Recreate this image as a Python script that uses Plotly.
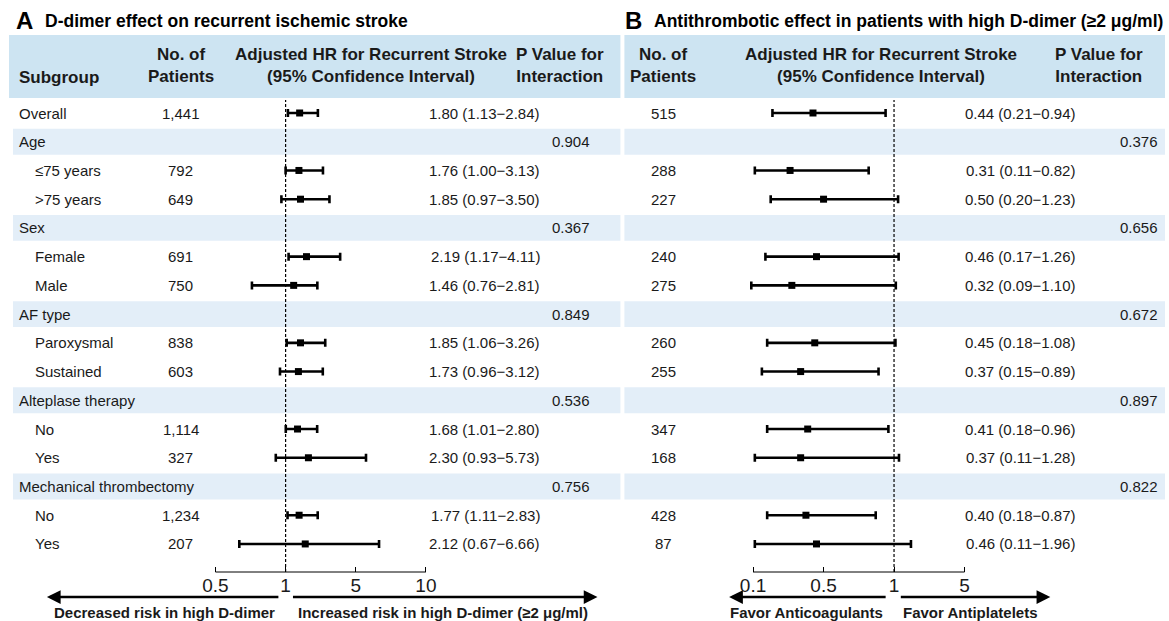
import numpy as np
import plotly.graph_objects as go

W, H = 1169, 621

# ---------------- data ----------------
subgroups = ["Overall", "Age", "≤75 years", ">75 years", "Sex", "Female", "Male",
             "AF type", "Paroxysmal", "Sustained", "Alteplase therapy", "No", "Yes",
             "Mechanical thrombectomy", "No", "Yes"]
is_category = [False, True, False, False, True, False, False, True, False, False,
               True, False, False, True, False, False]

a_n = ["1,441", "", "792", "649", "", "691", "750", "", "838", "603", "", "1,114", "327", "", "1,234", "207"]
a_hr = [1.80, None, 1.76, 1.85, None, 2.19, 1.46, None, 1.85, 1.73, None, 1.68, 2.30, None, 1.77, 2.12]
a_lo = [1.13, None, 1.00, 0.97, None, 1.17, 0.76, None, 1.06, 0.96, None, 1.01, 0.93, None, 1.11, 0.67]
a_hi = [2.84, None, 3.13, 3.50, None, 4.11, 2.81, None, 3.26, 3.12, None, 2.80, 5.73, None, 2.83, 6.66]
a_p = ["", "0.904", "", "", "0.367", "", "", "0.849", "", "", "0.536", "", "", "0.756", "", ""]

b_n = ["515", "", "288", "227", "", "240", "275", "", "260", "255", "", "347", "168", "", "428", "87"]
b_hr = [0.44, None, 0.31, 0.50, None, 0.46, 0.32, None, 0.45, 0.37, None, 0.41, 0.37, None, 0.40, 0.46]
b_lo = [0.21, None, 0.11, 0.20, None, 0.17, 0.09, None, 0.18, 0.15, None, 0.18, 0.11, None, 0.18, 0.11]
b_hi = [0.94, None, 0.82, 1.23, None, 1.26, 1.10, None, 1.08, 0.89, None, 0.96, 1.28, None, 0.87, 1.96]
b_p = ["", "0.376", "", "", "0.656", "", "", "0.672", "", "", "0.897", "", "", "0.822", "", ""]

a_ticks = [0.5, 1, 5, 10]
a_ticktext = ["0.5", "1", "5", "10"]
b_ticks = [0.1, 0.5, 1, 5]
b_ticktext = ["0.1", "0.5", "1", "5"]

# ---------------- helpers ----------------
def to_pos(v, ticks):
    """Piecewise-linear scale: tick values equally spaced (linear extrapolation at ends)."""
    t = np.asarray(ticks, float)
    idx = np.arange(len(t), dtype=float)
    v = float(v)
    if v < t[0]:
        return (v - t[0]) / (t[1] - t[0])
    if v > t[-1]:
        return idx[-1] + (v - t[-1]) / (t[-1] - t[-2])
    return float(np.interp(v, t, idx))

FONT = "Liberation Sans, Arial, sans-serif"
TXT = "#1a1a1a"
BODY = 15
HEAD = 17
BOTTOM = 15
TITLE = 17.5

# pixel layout
row0_px, row_step = 113.0, 28.73
axis_px = 572.0
top_px = 99.0
nrows = len(subgroups)
y_bottom = (axis_px - row0_px) / row_step
y_top = (top_px - row0_px) / row_step

def py(px):
    return 1 - px / H

def px_x(px):
    return px / W

# axis placement (pixel of first & last tick)
A_p0, A_p3 = 213.0, 424.0
B_p0, B_p3 = 752.0, 964.0
A_range = [-0.15, 3.15]
B_range = [-0.15, 3.15]

def domain(p0, p3, rng, nt=4):
    s = (p3 - p0) / (nt - 1)
    return [(p0 + rng[0] * s) / W, (p0 + rng[1] * s) / W]

fig = go.Figure()

rows = list(range(nrows))

def add_forest(hr, lo, hi, ticks, xa):
    xs, ys, ep, em = [], [], [], []
    for i in rows:
        if hr[i] is None:
            continue
        c = to_pos(hr[i], ticks)
        xs.append(c)
        ys.append(i)
        ep.append(to_pos(hi[i], ticks) - c)
        em.append(c - to_pos(lo[i], ticks))
    fig.add_trace(go.Scatter(
        x=xs, y=ys, xaxis=xa, yaxis="y", mode="markers",
        marker=dict(symbol="square", size=7, color="black"),
        error_x=dict(type="data", symmetric=False, array=ep, arrayminus=em,
                     color="black", thickness=2.6, width=4),
        showlegend=False, hoverinfo="skip", cliponaxis=False))

add_forest(a_hr, a_lo, a_hi, a_ticks, "x")
add_forest(b_hr, b_lo, b_hi, b_ticks, "x2")

axis_common = dict(showgrid=False, zeroline=False, showline=False, ticks="inside",
                   ticklen=5, tickwidth=1, tickcolor="black",
                   tickfont=dict(family=FONT, size=19, color=TXT),
                   fixedrange=True, anchor="y")
fig.update_layout(
    width=W, height=H, margin=dict(l=0, r=0, t=0, b=0),
    paper_bgcolor="white", plot_bgcolor="rgba(0,0,0,0)",
    xaxis=dict(domain=domain(A_p0, A_p3, A_range), range=A_range,
               tickvals=[to_pos(v, a_ticks) for v in a_ticks], ticktext=a_ticktext, **axis_common),
    xaxis2=dict(domain=domain(B_p0, B_p3, B_range), range=B_range,
                tickvals=[to_pos(v, b_ticks) for v in b_ticks], ticktext=b_ticktext, **axis_common),
    yaxis=dict(domain=[py(axis_px), py(top_px)], range=[y_bottom, y_top],
               visible=False, fixedrange=True),
)

shapes = []
ann = []

HEAD_BG = "#cde4f2"
CAT_BG = "#e3eef8"
A_x0, A_x1 = 6, 619
B_x0, B_x1 = 623, 1165

# header bands
for x0, x1 in [(A_x0, A_x1), (B_x0, B_x1)]:
    shapes.append(dict(type="rect", xref="paper", yref="paper",
                       x0=px_x(x0), x1=px_x(x1), y0=py(98), y1=py(35),
                       fillcolor=HEAD_BG, line_width=0, layer="below"))
# category bands
for i in rows:
    if is_category[i]:
        for x0, x1 in [(A_x0 + 4, A_x1), (B_x0, B_x1)]:
            shapes.append(dict(type="rect", xref="paper", yref="y",
                               x0=px_x(x0), x1=px_x(x1), y0=i - 0.45, y1=i + 0.45,
                               fillcolor=CAT_BG, line_width=0, layer="below"))

# reference lines and axis lines
for xa, ticks in [("x", a_ticks), ("x2", b_ticks)]:
    one = to_pos(1, ticks)
    shapes.append(dict(type="line", xref=xa, yref="paper", x0=one, x1=one,
                       y0=py(axis_px), y1=py(top_px + 1),
                       line=dict(color="black", width=1.2, dash="3px,2px")))
    shapes.append(dict(type="line", xref=xa, yref="paper",
                       x0=to_pos(ticks[0], ticks), x1=to_pos(ticks[-1], ticks),
                       y0=py(axis_px), y1=py(axis_px),
                       line=dict(color="black", width=1)))

def text(x, y, s, size=BODY, bold=False, xanchor="center", yref="paper", color=TXT):
    ann.append(dict(x=x, y=y, xref="paper", yref=yref, text=("<b>%s</b>" % s) if bold else s,
                    showarrow=False, xanchor=xanchor, yanchor="middle",
                    font=dict(family=FONT, size=size, color=color)))

# titles
text(px_x(11), py(20), "A", size=24, bold=True, xanchor="left", color="black")
text(px_x(40), py(21), "D-dimer effect on recurrent ischemic stroke", size=TITLE, bold=True,
     xanchor="left", color="black")
text(px_x(622), py(20), "B", size=24, bold=True, xanchor="left", color="black")
text(px_x(651), py(21), "Antithrombotic effect in patients with high D-dimer (≥2 μg/ml)", size=TITLE,
     bold=True, xanchor="left", color="black")

# headers
text(px_x(14), py(77), "Subgroup", size=HEAD, bold=True, xanchor="left")
text(px_x(178), py(65), "No. of<br>Patients", size=HEAD, bold=True)
text(px_x(369), py(65), "Adjusted HR for Recurrent Stroke<br>(95% Confidence Interval)", size=HEAD, bold=True)
text(px_x(512), py(65), "P Value for<br>Interaction", size=HEAD, bold=True, xanchor="left")
text(px_x(662), py(65), "No. of<br>Patients", size=HEAD, bold=True)
text(px_x(880), py(65), "Adjusted HR for Recurrent Stroke<br>(95% Confidence Interval)", size=HEAD, bold=True)
text(px_x(1099), py(65), "P Value for<br>Interaction", size=HEAD, bold=True)

# rows
for i in rows:
    indent = 14 if (is_category[i] or i == 0) else 30
    text(px_x(indent), i, subgroups[i], xanchor="left", yref="y")
    if a_n[i]:
        text(px_x(178), i, a_n[i], yref="y")
    if b_n[i]:
        text(px_x(662), i, b_n[i], yref="y")
    if a_hr[i] is not None:
        text(px_x(540), i, "%.2f (%.2f\u2212%.2f)" % (a_hr[i], a_lo[i], a_hi[i]), xanchor="right", yref="y")
    if b_hr[i] is not None:
        text(px_x(1020), i, "%.2f (%.2f\u2212%.2f)" % (b_hr[i], b_lo[i], b_hi[i]), yref="y")
    if a_p[i]:
        text(px_x(591), i, a_p[i], xanchor="right", yref="y")
    if b_p[i]:
        text(px_x(1160), i, b_p[i], xanchor="right", yref="y")

# direction arrows (head at xe, tail at xs)
arrows = [(277, 44), (290, 596), (886, 728), (899, 1050)]
for xs, xe in arrows:
    ann.append(dict(x=px_x(xe), y=py(597), xref="paper", yref="paper",
                    ax=xs - xe, ay=0, axref="pixel", ayref="pixel", text="", showarrow=True,
                    arrowhead=2, arrowsize=1.1, arrowwidth=2.5, arrowcolor="black"))
text(px_x(275), py(612), "Decreased risk in high D-dimer", size=BOTTOM, bold=True, xanchor="right")
text(px_x(294), py(612), "Increased risk in high D-dimer (≥2 μg/ml)", size=BOTTOM, bold=True, xanchor="left")
text(px_x(884), py(612), "Favor Anticoagulants", size=BOTTOM, bold=True, xanchor="right")
text(px_x(900), py(612), "Favor Antiplatelets", size=BOTTOM, bold=True, xanchor="left")

fig.update_layout(shapes=shapes, annotations=ann)
fig.write_html("out.html")
